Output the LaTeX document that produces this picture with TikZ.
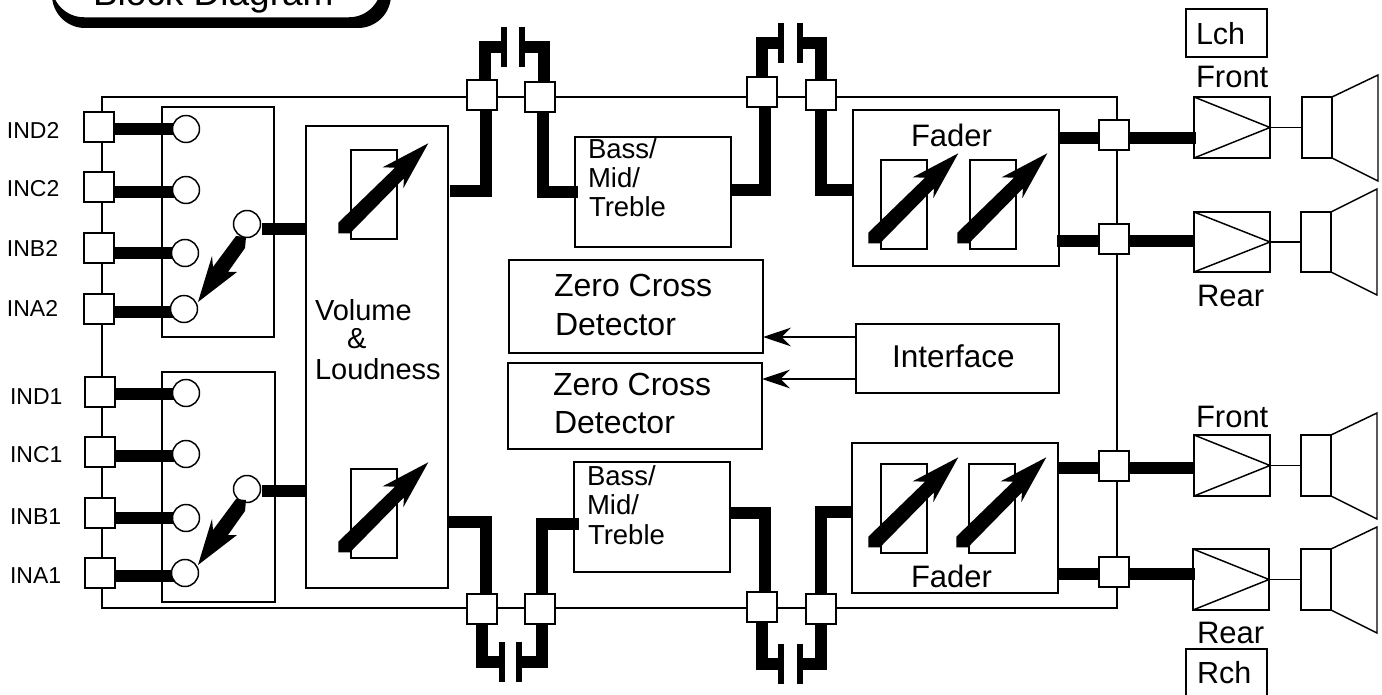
\documentclass[tikz,border=0pt]{standalone}
\usepackage{fontspec}
\setmainfont{Liberation Sans}
\usetikzlibrary{arrows.meta,backgrounds}
\tikzset{
  ln/.style={line width=1.1pt,draw=black},
  bus/.style={line width=9pt,draw=black,line cap=butt,line join=miter},
  bx/.style={ln,rectangle,inner sep=0pt,outer sep=0pt},
  pin/.style={bx,fill=white},
  sw/.style={ln,circle,fill=white,inner sep=0pt,outer sep=0pt,minimum size=20.25pt},
  plate/.style={rectangle,fill=black,inner sep=0pt,outer sep=0pt,minimum width=3.9pt,minimum height=30pt},
  tx/.style={anchor=base west,inner sep=0pt,outer sep=0pt},
  sig/.style={ln,-{Stealth[length=21pt,width=14pt,inset=7pt]}},
}
\newcommand{\bx}[6][bx]{%
  \pgfmathsetmacro{\bxw}{(#5-#3)*0.75}\pgfmathsetmacro{\bxh}{(#6-#4)*0.75}%
  \node[#1,minimum width=\bxw pt,minimum height=\bxh pt] (#2) at ({(#3+#5)/2},{(#4+#6)/2}) {};}
\newcommand{\lbl}[5]{%
  \pgfmathsetmacro{\fs}{#2*0.75}%
  \node[tx] (#1) at (#3,#4) {\fontsize{\fs pt}{\fs pt}\selectfont #5};}
\newcommand{\pinsq}[3]{\bx[pin]{#1}{#2}{#3}{(#2+30)}{(#3+30)}}
\newcommand{\varres}[3]{%
  \bx{#1}{#2}{(#3-89)}{(#2+46)}{#3}%
  \fill[black,shift={(#2,#3)}] (-12.7,-16.3) -- (44,-71.3) -- (31.7,-71.7) -- (77.3,-95.7)
    -- (52.3,-50.7) -- (53,-60.7) -- (-1,-5.7) -- (-12.7,-5.7) -- cycle;}
\newcommand{\swarr}[1]{%
  \fill[black,shift={(0,#1)}] (236,236) -- (246,237) -- (245,248) -- (228,272) -- (237,272)
    -- (198,302) -- (212,256) -- (213,267) -- cycle;}
\newcommand{\ampspk}[9]{%
  \bx{a#1}{#2}{#3}{#4}{#5}%
  \draw[ln,line join=miter] (a#1.north west) -- (a#1.east) -- (a#1.south west) -- cycle;
  \bx{s#1}{#6}{#3}{#7}{#5}%
  \draw[ln] (a#1.east) -- (s#1.west);
  \draw[ln] (s#1.north east) -- (#8,#9) -- (#8,\conebot) -- (s#1.south east);}
\begin{document}
\begin{tikzpicture}[x=0.75pt,y=-0.75pt]
\useasboundingbox (0,0) rectangle (1382,695);
\clip (0,0) rectangle (1382,695);
% title
\fill[black,rounded corners=24.75pt] (52,-50) rectangle (391,28);
\draw[ln,fill=white,rounded corners=24.75pt] (51,-50) rectangle (382,18);
\lbl{title}{37}{93}{6}{Block Diagram}
% chip outline
\bx{chip}{102}{97}{1117}{608}
% selector boxes
\bx{selU}{162}{107}{274}{337}
\bx{selL}{162}{372}{275}{602}
\bx{vol}{306}{126}{448}{588}
\bx{bmtU}{575}{137}{731}{247}
\bx{bmtL}{574}{462}{730}{572}
\bx{zcU}{509}{260}{763}{353}
\bx{zcL}{508}{363}{762}{449}
\bx{intf}{856}{324}{1059}{393}
\bx{fadU}{853}{110}{1059}{266}
\bx{fadL}{852}{443}{1058}{593}
\bx{lch}{1186}{9}{1267}{57}
\bx{rch}{1186}{649}{1267}{720}
% input pins
\pinsq{pD2}{84}{112}\pinsq{pC2}{84}{172}\pinsq{pB2}{84}{233}\pinsq{pA2}{84}{294}
\pinsq{pD1}{85}{377}\pinsq{pC1}{85}{437}\pinsq{pB1}{85}{498}\pinsq{pA1}{85}{558}
% switch circles
\node[sw] (cD2) at (186,129) {};
\node[sw] (cC2) at (186,190) {};
\node[sw] (cB2) at (185,253) {};
\node[sw] (cA2) at (184,309) {};
\node[sw] (cO2) at (247,224) {};
\node[sw] (cD1) at (186,393) {};
\node[sw] (cC1) at (186,454) {};
\node[sw] (cB1) at (186,518) {};
\node[sw] (cA1) at (185,573) {};
\node[sw] (cO1) at (247,489) {};
\swarr{0}
\swarr{263}
% top and bottom pins
\pinsq{pTa}{467}{80}\pinsq{pTb}{525}{82}\pinsq{pTc}{747}{77}\pinsq{pTd}{806}{80}
\pinsq{pBa}{467}{594}\pinsq{pBb}{525}{594}\pinsq{pBc}{747}{592}\pinsq{pBd}{806}{594}
% right pins
\pinsq{pRa}{1099}{120}\pinsq{pRb}{1099}{224}\pinsq{pRc}{1099}{451}\pinsq{pRd}{1099}{557}
% capacitor plates
\node[plate] (capTaL) at (504,47) {};
\node[plate] (capTaR) at (522,47) {};
\node[plate] (capTbL) at (781,43) {};
\node[plate] (capTbR) at (800,43) {};
\node[plate] (capBaL) at (502,662) {};
\node[plate] (capBaR) at (519,662) {};
\node[plate] (capBbL) at (781,664) {};
\node[plate] (capBbR) at (800,664) {};
% variable resistors
\varres{vrVU}{351}{239}
\varres{vrVL}{351}{558}
\varres{vrFUa}{881}{249}
\varres{vrFUb}{970}{249}
\varres{vrFLa}{881}{553}
\varres{vrFLb}{969}{553}
% amps and speakers
\def\conebot{181}\ampspk{F1}{1194}{97}{1270}{158}{1302}{1332}{1378}{75}
\def\conebot{295}\ampspk{R1}{1194}{212}{1270}{272}{1301}{1331}{1377}{189}
\def\conebot{519}\ampspk{F2}{1194}{435}{1270}{496}{1301}{1331}{1377}{413}
\def\conebot{633}\ampspk{R2}{1193}{549}{1269}{610}{1301}{1331}{1377}{527}
% thick buses
\begin{pgfonlayer}{background}
\foreach \p/\c/\y in {pD2/cD2/129,pC2/cC2/192,pB2/cB2/253,pA2/cA2/312,pD1/cD1/394,pC1/cC1/456,pB1/cB1/518,pA1/cA1/576}
  \draw[bus] (\p.east |- 0,\y) -- (\c.center |- 0,\y);
\draw[bus] (262,229) -- (vol.west |- 0,229);
\draw[bus] (262,491) -- (vol.west |- 0,491);
% top routes
\draw[bus] (450,191) -| (486,0 |- pTa.south);
\draw[bus] (485,0 |- pTa.north) |- (capTaL);
\draw[bus] (544,0 |- pTb.north) |- (capTaR);
\draw[bus] (543,0 |- pTb.south) |- (578,192);
\draw[bus] (bmtU.east |- 0,190) -| (765,0 |- pTc.south);
\draw[bus] (762,0 |- pTc.north) |- (capTbL);
\draw[bus] (821,0 |- pTd.north) |- (capTbR);
\draw[bus] (821,0 |- pTd.south) |- (fadU.west |- 0,190);
% bottom routes
\draw[bus] (447,522) -| (486,0 |- pBa.north);
\draw[bus] (482,0 |- pBa.south) |- (capBaL);
\draw[bus] (542,0 |- pBb.south) |- (capBaR);
\draw[bus] (542,0 |- pBb.north) |- (579,524);
\draw[bus] (bmtL.east |- 0,513) -| (765,0 |- pBc.north);
\draw[bus] (762,0 |- pBc.south) |- (capBbL);
\draw[bus] (821,0 |- pBd.south) |- (capBbR);
\draw[bus] (821,0 |- pBd.north) |- (fadL.west |- 0,512);
% fader outputs
\draw[bus] (fadU.east |- 0,138) -- (pRa.west |- 0,138);
\draw[bus] (pRa.east |- 0,138) -- (1196,138);
\draw[bus] (1057,241) -- (pRb.west |- 0,241);
\draw[bus] (pRb.east |- 0,241) -- (1195,241);
\draw[bus] (fadL.east |- 0,468) -- (pRc.west |- 0,468);
\draw[bus] (pRc.east |- 0,468) -- (1195,468);
\draw[bus] (1057,574) -- (pRd.west |- 0,574);
\draw[bus] (pRd.east |- 0,574) -- (1195,574);
\end{pgfonlayer}
% control arrows
\draw[sig] (intf.west |- 0,337) -- (zcU.east |- 0,337);
\draw[sig] (intf.west |- 0,379) -- (zcL.east |- 0,379);
% labels
\lbl{tD2}{23}{7}{139}{IND2}
\lbl{tC2}{23}{7}{197}{INC2}
\lbl{tB2}{23}{7}{257}{INB2}
\lbl{tA2}{23}{7}{317}{INA2}
\lbl{tD1}{23}{10}{404}{IND1}
\lbl{tC1}{23}{10}{462}{INC1}
\lbl{tB1}{23}{10}{524}{INB1}
\lbl{tA1}{23}{10}{583}{INA1}
\lbl{tVol}{29}{315}{321}{Volume}
\lbl{tAmp}{29}{347}{349}{\&}
\lbl{tLou}{29}{315}{379}{Loudness}
\lbl{tBU}{27.5}{588}{159}{Bass/}
\lbl{tMU}{27.5}{588}{188}{Mid/}
\lbl{tTU}{27.5}{589}{217}{Treble}
\lbl{tBL}{27.5}{587}{485}{Bass/}
\lbl{tML}{27.5}{587}{514}{Mid/}
\lbl{tTL}{27.5}{588}{544}{Treble}
\lbl{tZU}{32}{554}{297}{Zero Cross}
\lbl{tDU}{32}{555}{335}{Detector}
\lbl{tZL}{32}{553}{395}{Zero Cross}
\lbl{tDL}{32}{554}{433}{Detector}
\lbl{tInt}{31.5}{892}{368}{Interface}
\lbl{tFU}{31}{911}{147}{Fader}
\lbl{tFL}{31}{911}{587}{Fader}
\lbl{tLch}{30.5}{1196}{45}{Lch}
\lbl{tRch}{30.5}{1197}{683}{Rch}
\lbl{tFr1}{31}{1196}{88}{Front}
\lbl{tRe1}{31}{1197}{307}{Rear}
\lbl{tFr2}{31}{1196}{427}{Front}
\lbl{tRe2}{31}{1197}{643}{Rear}
\end{tikzpicture}
\end{document}
